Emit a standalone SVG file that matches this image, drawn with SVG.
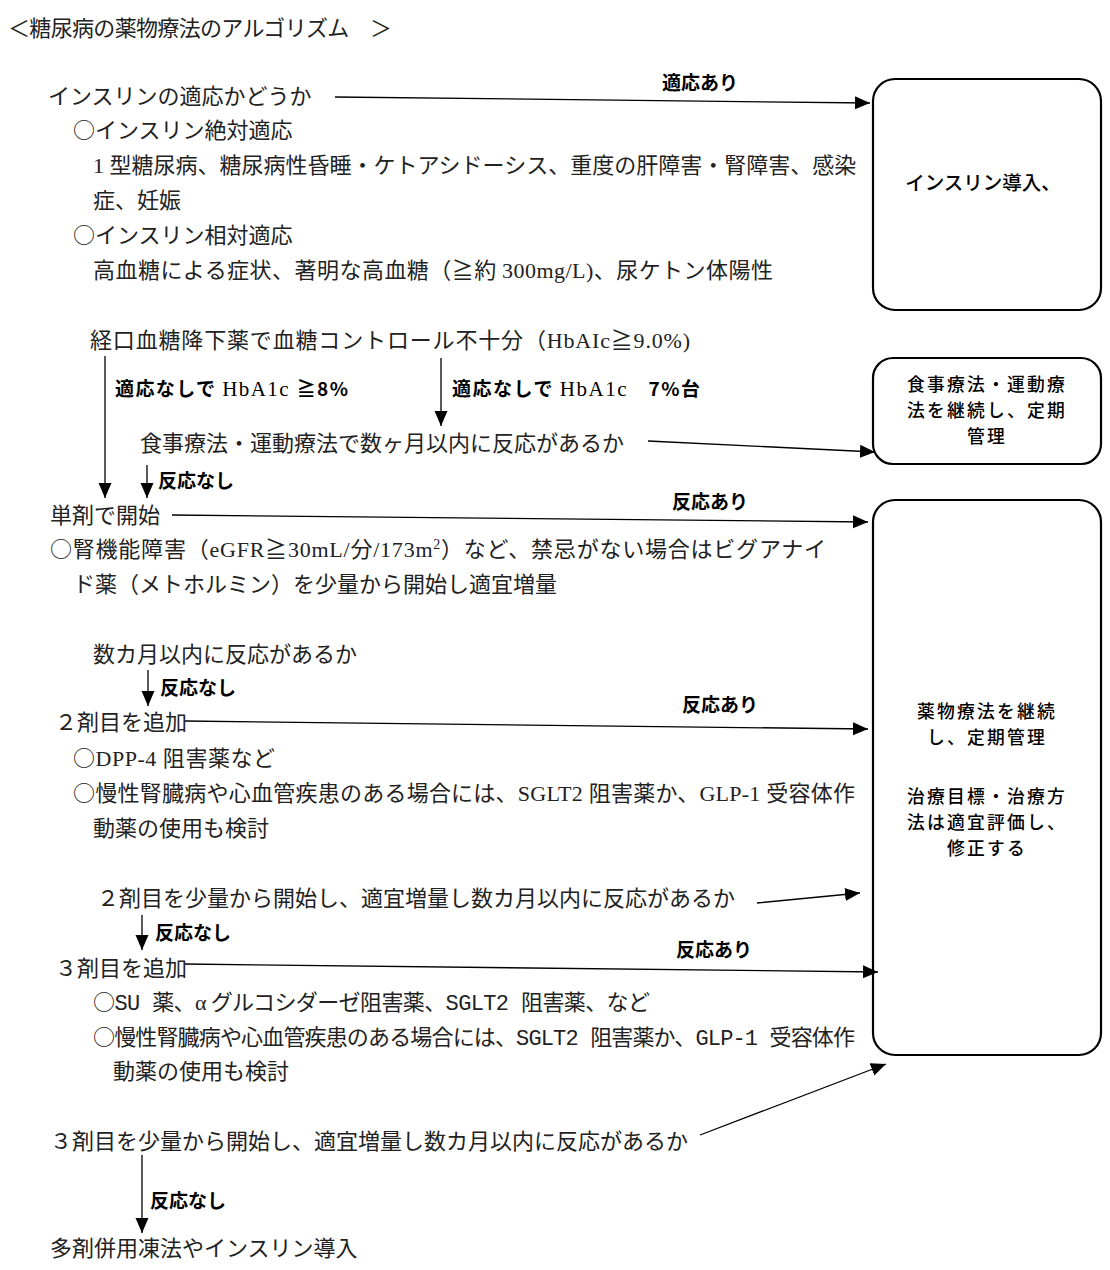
<svg xmlns="http://www.w3.org/2000/svg" width="1110" height="1270" viewBox="0 0 1110 1270">
<style>
  .t { font-family: "Noto Sans CJK JP", sans-serif; font-size: 22px; fill: #222; }
  .lat { font-family: "Liberation Serif", serif; }
  .mono { font-family: "Liberation Sans Narrow", "Liberation Mono", monospace; font-size: 22px; }
  .lbl { font-family: "Noto Sans CJK JP", sans-serif; font-size: 19px; font-weight: bold; fill: #000; }
  .lbl .lat { font-weight: normal; font-size: 21px; }
  .box { fill: #fff; stroke: #000; stroke-width: 2.2; }
  .bt { font-family: "Noto Sans CJK JP", sans-serif; font-size: 19.5px; font-weight: 500; fill: #000; text-anchor: middle; }
  .bts { font-size: 17.8px; letter-spacing: 2.2px; }
  .ln { fill: none; stroke: #000; stroke-width: 1.3; marker-end: url(#ah); }
</style>
<defs>
  <marker id="ah" markerUnits="userSpaceOnUse" markerWidth="16" markerHeight="14" refX="15" refY="6.5" orient="auto">
    <path d="M0,0 L15,6.5 L0,13 z" fill="#000"/>
  </marker>
</defs>
<rect width="1110" height="1270" fill="#fff"/>

<g id="title">
  <text class="t" x="8" y="36" font-size="21" textLength="384" lengthAdjust="spacing">＜糖尿病の薬物療法のアルゴリズム　＞</text>
</g>

<g id="n-insulin-q">
  <text class="t" x="48" y="104">インスリンの適応かどうか</text>
  <text class="t" x="73" y="138">○インスリン絶対適応</text>
  <text class="t" x="93" y="173"><tspan class="lat">1 </tspan>型糖尿病、糖尿病性昏睡・ケトアシドーシス、重度の肝障害・腎障害、感染</text>
  <text class="t" x="93" y="208">症、妊娠</text>
  <text class="t" x="73" y="243">○インスリン相対適応</text>
  <text class="t" x="93" y="278" textLength="680" lengthAdjust="spacing">高血糖による症状、著明な高血糖（≧約 <tspan class="lat">300mg/L)</tspan>、尿ケトン体陽性</text>
</g>

<g id="n-oral">
  <text class="t" x="90" y="348" textLength="600" lengthAdjust="spacing">経口血糖降下薬で血糖コントロール不十分（<tspan class="lat">HbAIc</tspan>≧<tspan class="lat">9.0%)</tspan></text>
</g>

<g id="n-diet">
  <text class="t" x="140" y="451">食事療法・運動療法で数ヶ月以内に反応があるか</text>
</g>

<g id="n-mono">
  <text class="t" x="50" y="523">単剤で開始</text>
  <text class="t" x="50" y="557" textLength="776" lengthAdjust="spacing">○腎機能障害（<tspan class="lat">eGFR</tspan>≧<tspan class="lat">30mL/</tspan>分<tspan class="lat">/173m</tspan><tspan class="lat" font-size="14" dy="-8">2</tspan><tspan dy="8">）など、禁忌がない場合はビグアナイ</tspan></text>
  <text class="t" x="73" y="592">ド薬（メトホルミン）を少量から開始し適宜増量</text>
</g>

<g id="n-mono-q">
  <text class="t" x="93" y="662">数カ月以内に反応があるか</text>
</g>

<g id="n-second">
  <text class="t" x="55" y="730">２剤目を追加</text>
  <text class="t" x="73" y="766" textLength="202" lengthAdjust="spacing">○<tspan class="lat">DPP-4 </tspan>阻害薬など</text>
  <text class="t" x="73" y="801" textLength="782" lengthAdjust="spacing">○慢性腎臓病や心血管疾患のある場合には、<tspan class="lat">SGLT2 </tspan>阻害薬か、<tspan class="lat">GLP-1 </tspan>受容体作</text>
  <text class="t" x="93" y="836">動薬の使用も検討</text>
</g>

<g id="n-second-q">
  <text class="t" x="97" y="906">２剤目を少量から開始し、適宜増量し数カ月以内に反応があるか</text>
</g>

<g id="n-third">
  <text class="t" x="55" y="976">３剤目を追加</text>
  <text class="t" x="93" y="1010" textLength="557" lengthAdjust="spacing">○<tspan class="mono">SU </tspan>薬、<tspan class="lat">α </tspan>グルコシダーゼ阻害薬、<tspan class="mono">SGLT2 </tspan>阻害薬、など</text>
  <text class="t" x="93" y="1045" textLength="762" lengthAdjust="spacing">○慢性腎臓病や心血管疾患のある場合には、<tspan class="mono">SGLT2 </tspan>阻害薬か、<tspan class="mono">GLP-1 </tspan>受容体作</text>
  <text class="t" x="113" y="1079">動薬の使用も検討</text>
</g>

<g id="n-third-q">
  <text class="t" x="50" y="1149">３剤目を少量から開始し、適宜増量し数カ月以内に反応があるか</text>
</g>

<g id="n-multi">
  <text class="t" x="50" y="1256">多剤併用凍法やインスリン導入</text>
</g>

<g id="box-insulin">
  <rect class="box" x="873" y="79" width="228" height="231" rx="22"/>
  <text class="bt" x="983" y="190">インスリン導入、</text>
</g>

<g id="box-diet">
  <rect class="box" x="873" y="358" width="228" height="106" rx="20"/>
  <text class="bt bts" x="987" y="391">食事療法・運動療</text>
  <text class="bt bts" x="987" y="417">法を継続し、定期</text>
  <text class="bt bts" x="987" y="443">管理</text>
</g>

<g id="box-drug">
  <rect class="box" x="873" y="500" width="228" height="555" rx="22"/>
  <text class="bt bts" x="987" y="718">薬物療法を継続</text>
  <text class="bt bts" x="987" y="744">し、定期管理</text>
  <text class="bt bts" x="987" y="803">治療目標・治療方</text>
  <text class="bt bts" x="987" y="829">法は適宜評価し、</text>
  <text class="bt bts" x="987" y="855">修正する</text>
</g>

<g id="connectors">
  <path class="ln" d="M335,97 L870,103"/>
  <path class="ln" d="M105,356 L105,498"/>
  <path class="ln" d="M441,358 L441,426"/>
  <path class="ln" d="M648,441 L875,452"/>
  <path class="ln" d="M147,465 L147,498"/>
  <path class="ln" d="M172,515 L868,522"/>
  <path class="ln" d="M148,670 L148,706"/>
  <path class="ln" d="M185,721 L868,729"/>
  <path class="ln" d="M757,903 L860,893"/>
  <path class="ln" d="M142,915 L142,950"/>
  <path class="ln" d="M185,964 L878,972"/>
  <path class="ln" d="M700,1135 L886,1064"/>
  <path class="ln" d="M142,1155 L142,1233"/>

  <text class="lbl" x="700" y="90" text-anchor="middle">適応あり</text>
  <text class="lbl" x="115" y="396" textLength="233" lengthAdjust="spacing">適応なしで <tspan class="lat">HbA1c </tspan>≧8%</text>
  <text class="lbl" x="452" y="396" textLength="248" lengthAdjust="spacing">適応なしで <tspan class="lat">HbA1c</tspan>　7%台</text>
  <text class="lbl" x="158" y="488">反応なし</text>
  <text class="lbl" x="710" y="509" text-anchor="middle">反応あり</text>
  <text class="lbl" x="160" y="695">反応なし</text>
  <text class="lbl" x="720" y="712" text-anchor="middle">反応あり</text>
  <text class="lbl" x="155" y="940">反応なし</text>
  <text class="lbl" x="714" y="957" text-anchor="middle">反応あり</text>
  <text class="lbl" x="150" y="1208">反応なし</text>
</g>
</svg>
